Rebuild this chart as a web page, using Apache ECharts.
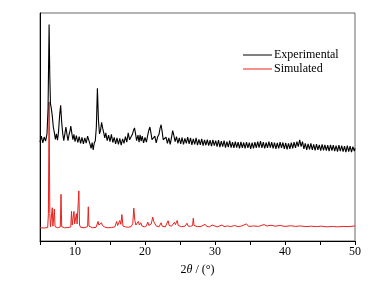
<!DOCTYPE html>
<html>
<head>
<meta charset="utf-8">
<script src="https://cdn.jsdelivr.net/npm/echarts@6/dist/echarts.min.js"></script>
<style>
  html, body { margin: 0; padding: 0; background: #fff; }
  #chart { width: 382px; height: 281px; }
</style>
</head>
<body>
<div id="chart"></div>
<script>
// 2θ range and ticks
const xMin = 5
const xMax = 50
const xTicks = [10, 20, 30, 40, 50]
const seriesNames = ['Experimental', 'Simulated']

// experimental pattern [2θ, intensity]
const experimental = [
  [5.0, 43.4], [5.2, 46.0], [5.4, 43.0], [5.6, 45.6], [5.8, 43.8], [6.0, 47], [6.15, 58], [6.3, 95], [6.4, 72],
  [6.5, 60], [6.6, 58.5], [6.75, 55], [6.9, 50], [7.05, 47.5], [7.2, 44.6], [7.35, 47.0], [7.5, 44.2], [7.65, 48],
  [7.8, 55], [7.95, 59.5], [8.1, 52], [8.25, 47], [8.4, 44.0], [8.55, 47.0], [8.7, 50], [8.85, 46.8], [9.0, 44.0],
  [9.15, 46.6], [9.3, 48.5], [9.4, 50.4], [9.55, 47.2], [9.7, 44.4], [9.85, 46.8], [10.0, 43.6], [10.2, 46.2], [10.4, 43.2],
  [10.6, 45.8], [10.8, 42.8], [11.0, 45.4], [11.2, 42.6], [11.4, 45.2], [11.6, 42.9], [11.8, 46.0], [12.0, 46.5],
  [12.15, 42.4], [12.3, 40.6], [12.45, 43.2], [12.6, 40.0], [12.75, 43.0], [12.9, 44], [13.05, 50], [13.2, 67], [13.35, 53],
  [13.5, 47], [13.65, 48.5], [13.8, 52], [13.95, 49.5], [14.1, 47.5], [14.25, 45.2], [14.4, 47.4], [14.6, 44.0],
  [14.8, 46.4], [15.0, 43.6], [15.2, 46.8], [15.4, 43.2], [15.6, 45.4], [15.8, 42.6], [16.0, 45.2], [16.2, 42.4],
  [16.4, 45.0], [16.6, 42.0], [16.8, 44.8], [17.0, 42.8], [17.2, 45.8], [17.4, 43.4], [17.6, 47.4], [17.8, 44.4],
  [18.0, 43.6], [18.2, 46.8], [18.35, 48.4], [18.5, 49.6], [18.65, 47], [18.8, 44.0], [19.0, 46.4], [19.15, 43.4],
  [19.3, 46.6], [19.45, 43.8], [19.6, 46.0], [19.8, 43.0], [20.0, 45.4], [20.2, 43.4], [20.4, 46.6], [20.55, 48.6],
  [20.7, 50], [20.85, 47.4], [21.0, 44.4], [21.2, 44.6], [21.4, 46.0], [21.6, 43.0], [21.8, 45.6], [22.0, 46.8],
  [22.15, 49.4], [22.3, 51], [22.45, 48], [22.6, 44.4], [22.8, 44.4], [23.0, 45.6], [23.2, 42.8], [23.4, 45.2],
  [23.6, 42.4], [23.8, 45.6], [23.95, 48.4], [24.1, 46.6], [24.3, 43.6], [24.5, 45.8], [24.7, 42.8], [24.9, 45.2],
  [25.1, 42.6], [25.3, 45.4], [25.5, 42.4], [25.7, 45.0], [25.9, 42.8], [26.1, 45.6], [26.3, 42.6], [26.5, 45.2],
  [26.7, 42.2], [26.9, 44.8], [27.1, 42.4], [27.3, 45.2], [27.5, 42.0], [27.7, 44.6], [27.9, 42.2], [28.1, 44.8],
  [28.3, 41.8], [28.5, 44.4], [28.7, 42.0], [28.9, 44.5], [29.1, 41.8], [29.3, 44.2], [29.5, 41.6], [29.7, 44.4],
  [29.9, 41.8], [30.1, 44.0], [30.3, 41.4], [30.5, 44.2], [30.7, 41.2], [30.9, 43.8], [31.1, 41.4], [31.3, 44.0],
  [31.5, 41.0], [31.7, 43.6], [31.9, 41.2], [32.1, 44.0], [32.3, 41.0], [32.5, 43.4], [32.7, 40.8], [32.9, 43.6],
  [33.1, 41.0], [33.3, 43.4], [33.5, 40.6], [33.7, 43.5], [33.9, 40.8], [34.1, 43.2], [34.3, 40.6], [34.5, 43.4],
  [34.7, 40.8], [34.9, 43.1], [35.1, 40.4], [35.3, 43.2], [35.5, 40.6], [35.7, 43.4], [35.9, 40.8], [36.1, 43.6],
  [36.3, 41.0], [36.5, 43.8], [36.7, 40.8], [36.9, 43.4], [37.1, 40.6], [37.3, 43.2], [37.5, 40.8], [37.7, 43.6],
  [37.9, 41.0], [38.1, 43.4], [38.3, 40.6], [38.5, 43.2], [38.7, 40.4], [38.9, 43.0], [39.1, 40.6], [39.3, 43.4],
  [39.5, 40.8], [39.7, 43.2], [39.9, 40.4], [40.1, 43.0], [40.3, 40.2], [40.5, 42.8], [40.7, 40.4], [40.9, 43.2],
  [41.1, 40.6], [41.3, 43.4], [41.5, 40.8], [41.7, 43.6], [41.9, 41.4], [42.1, 44.4], [42.3, 41.4], [42.5, 43.6],
  [42.7, 40.4], [42.9, 42.8], [43.1, 40.0], [43.3, 42.6], [43.5, 40.2], [43.7, 42.8], [43.9, 40.0], [44.1, 42.4],
  [44.3, 39.8], [44.5, 42.5], [44.7, 40.0], [44.9, 42.2], [45.1, 39.6], [45.3, 42.4], [45.5, 39.8], [45.7, 42.2],
  [45.9, 39.6], [46.1, 42.0], [46.3, 39.4], [46.5, 42.2], [46.7, 39.6], [46.9, 42.0], [47.1, 39.4], [47.3, 41.8],
  [47.5, 39.2], [47.7, 42.0], [47.9, 39.4], [48.1, 41.8], [48.3, 39.2], [48.5, 41.6], [48.7, 39.0], [48.9, 41.8],
  [49.1, 39.2], [49.3, 41.6], [49.5, 39.0], [49.7, 41.4], [49.9, 39.4], [50.0, 40.6]
]

// simulated pattern [2θ, intensity]
const simulated = [
  [5.0, 5.8], [5.6, 5.7], [6.1, 5.9], [6.2, 12], [6.3, 61], [6.4, 12], [6.5, 6.2], [6.65, 6], [6.75, 14.6],
  [6.85, 6.5], [6.95, 6.2], [7.05, 14], [7.15, 6.3], [7.5, 5.8], [7.9, 6.2], [8.0, 20.5], [8.1, 6.3], [8.5, 5.8],
  [9.0, 5.9], [9.4, 6.2], [9.5, 13], [9.6, 7], [9.75, 7.5], [9.85, 13], [9.95, 7.5], [10.1, 7], [10.2, 12],
  [10.3, 7.5], [10.45, 7.5], [10.55, 22], [10.65, 7], [10.8, 6], [11.3, 5.8], [11.8, 6.3], [11.9, 15], [12.0, 6.5],
  [12.5, 5.8], [13.0, 6], [13.2, 6.8], [13.3, 8.6], [13.4, 7], [13.55, 7.5], [13.65, 6.8], [13.8, 8], [13.9, 6.8],
  [14.0, 7.3], [14.2, 6.2], [14.6, 5.8], [15.2, 5.9], [15.7, 6.2], [15.95, 8.6], [16.1, 6.8], [16.25, 7.5],
  [16.4, 9], [16.55, 7.3], [16.7, 11.6], [16.85, 6.6], [17.2, 6.2], [17.6, 6], [18.0, 6.3], [18.25, 7.5],
  [18.4, 14.4], [18.55, 9], [18.7, 7], [19.05, 8.6], [19.2, 7], [19.4, 8], [19.55, 6.6], [19.9, 6.2], [20.2, 6.6],
  [20.4, 8.3], [20.55, 6.8], [20.9, 7.5], [21.1, 10.5], [21.25, 8.5], [21.4, 8.5], [21.6, 6.6], [22.0, 6.2],
  [22.3, 8], [22.45, 6.5], [22.9, 6.2], [23.15, 6.8], [23.3, 8.9], [23.45, 6.8], [23.8, 6.5], [24.05, 7.2],
  [24.2, 8.2], [24.35, 7.2], [24.6, 9], [24.75, 6.8], [25.2, 6.3], [25.7, 6.5], [26.0, 7.8], [26.15, 6.6],
  [26.5, 6.4], [26.8, 6.8], [26.9, 10], [27.0, 6.8], [27.5, 6.3], [28.0, 6.4], [28.6, 7.3], [28.8, 6.4],
  [29.2, 6.2], [29.6, 7], [29.8, 6.2], [30.3, 6.2], [31.0, 7], [31.3, 6.3], [31.8, 6.6], [32.2, 6.3], [32.8, 6.8],
  [33.3, 6.3], [33.8, 6.6], [34.5, 7.5], [34.8, 6.4], [35.5, 6.6], [36.2, 6.4], [37.0, 7.2], [37.4, 6.6],
  [38.0, 6.9], [38.6, 6.5], [39.3, 6.8], [40.0, 6.4], [40.8, 6.7], [41.5, 6.4], [42.2, 6.6], [43.0, 6.3],
  [43.8, 6.5], [44.5, 6.3], [45.2, 6.5], [46.0, 6.2], [46.8, 6.4], [47.5, 6.2], [48.3, 6.4], [49.0, 6.3], [50.0, 6.6]
]

const chart = echarts.init(document.getElementById('chart'), null, { renderer: 'canvas' })
const serif = 'Liberation Serif, Times New Roman, serif'

const option = {
  backgroundColor: '#fff',
  animation: false,
  textStyle: { fontFamily: serif },
  grid: {
    left: 40, right: 27, top: 13, bottom: 36,
    show: true, borderColor: '#666', borderWidth: 1
  },
  legend: {
    orient: 'vertical',
    left: 238, top: 44,
    itemWidth: 29, itemHeight: 1,
    itemGap: 2,
    icon: 'rect',
    data: seriesNames,
    textStyle: { fontFamily: serif, fontSize: 12, color: '#000', padding: [0, 0, 0, -3] }
  },
  xAxis: {
    type: 'value',
    min: xMin, max: xMax, interval: 5,
    name: '{n|2}{i|θ}{n| / (°)}',
    nameLocation: 'middle',
    nameGap: 23,
    nameTextStyle: {
      rich: {
        n: { fontFamily: serif, fontSize: 12, color: '#000' },
        i: { fontFamily: serif, fontSize: 12, fontStyle: 'italic', color: '#000' }
      }
    },
    axisLine: { lineStyle: { color: '#000', width: 1 } },
    axisTick: { show: true, inside: false, length: 4, lineStyle: { color: '#000' } },
    axisLabel: {
      color: '#000', fontSize: 12, fontFamily: serif, margin: 5,
      formatter: v => (xTicks.indexOf(v) > -1 ? String(v) : '')
    },
    splitLine: { show: false }
  },
  yAxis: {
    type: 'value',
    min: 0, max: 100,
    axisLine: { show: true, lineStyle: { color: '#000', width: 1 } },
    axisTick: { show: false },
    axisLabel: { show: false },
    splitLine: { show: false }
  },
  series: [
    {
      name: seriesNames[0],
      type: 'line',
      data: experimental,
      symbol: 'none',
      z: 3,
      lineStyle: { color: '#000', width: 1.1 },
      itemStyle: { color: '#000' }
    },
    {
      name: seriesNames[1],
      type: 'line',
      data: simulated,
      symbol: 'none',
      z: 2,
      lineStyle: { color: '#e8211d', width: 1 },
      itemStyle: { color: '#e8211d' }
    }
  ]
}

chart.setOption(option)
</script>
</body>
</html>
